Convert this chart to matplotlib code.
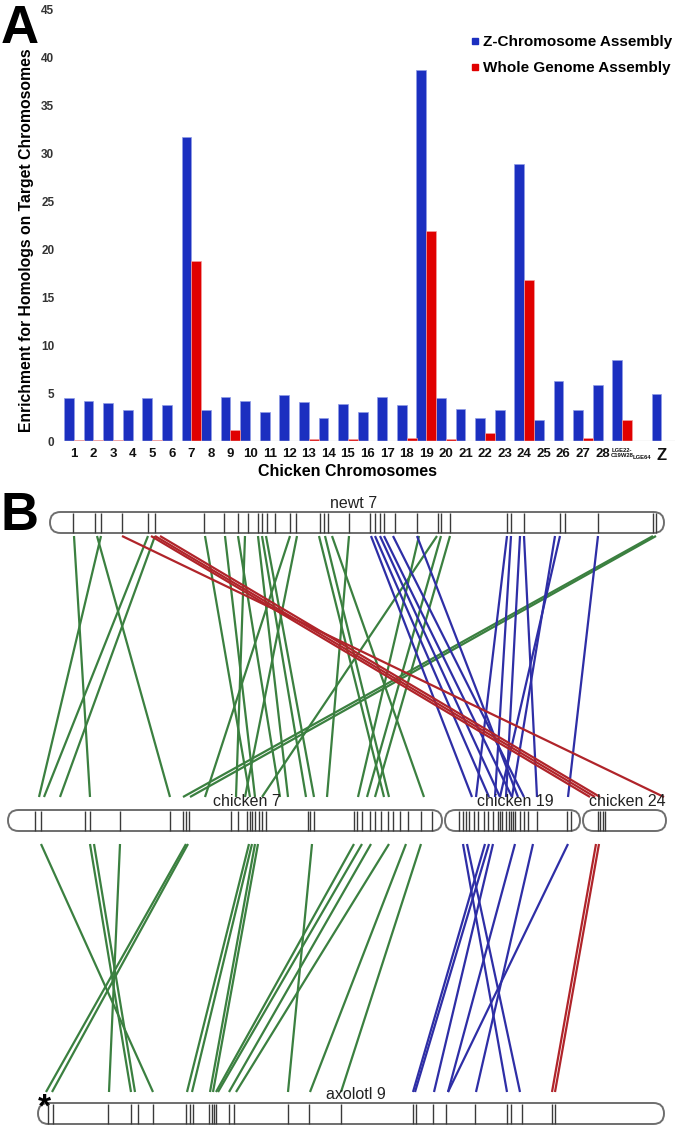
import numpy as np
import matplotlib.pyplot as plt
from matplotlib.patches import FancyBboxPatch
from matplotlib.lines import Line2D

plt.rcParams['font.family'] = ['Liberation Sans', 'DejaVu Sans']

# ---------------- panel A data ----------------
chromosomes = [str(i) for i in range(1, 29)] + ['LGE22-\nC19W28', 'LGE64', 'Z']
z_assembly = [4.45, 4.15, 3.95, 3.2, 4.5, 3.75, 31.7, 3.25, 4.6, 4.15,
              3.0, 4.8, 4.1, 2.45, 3.85, 3.0, 4.6, 3.75, 38.7, 4.5,
              3.35, 2.35, 3.2, 28.9, 2.15, 6.25, 3.2, 5.85, 8.45, 0, 4.9]
whole_genome = [0.1, 0.1, 0.1, 0, 0.1, 0, 18.8, 0, 1.15, 0,
                0, 0, 0.2, 0, 0.2, 0, 0, 0.35, 21.9, 0.25,
                0, 0.8, 0, 16.8, 0, 0, 0.35, 0, 2.2, 0, 0]

# ---------------- panel B data (positions along the ideograms, px) ----------------
newt7_bands = [73, 95, 101, 122, 148, 155, 204, 224, 238, 248, 258, 262, 267, 275,
               290, 296, 320, 324, 328, 349, 370, 375, 380, 384, 395, 417, 438, 441,
               450, 507, 511, 524, 560, 565, 598, 653, 656]
chicken7_bands = [35, 41, 85, 90, 120, 170, 183, 186, 189, 231, 238, 247, 250, 252,
                  255, 259, 262, 266, 308, 310, 314, 354, 357, 362, 370, 375, 381,
                  388, 393, 400, 408, 421, 432]
chicken19_bands = [459, 463, 466, 469, 474, 478, 484, 488, 493, 498, 500, 502, 506,
                   509, 511, 513, 515, 520, 524, 528, 537, 567, 571]
chicken24_bands = [598, 600, 603, 605]
axolotl9_bands = [48, 53, 108, 131, 138, 153, 186, 190, 193, 209, 212, 214, 216, 229,
                  234, 288, 309, 341, 413, 416, 433, 446, 475, 507, 511, 522, 552, 555]

# newt 7 -> chicken links
upper_from = [74, 97, 101, 148, 155, 205, 225, 238, 245, 258, 262, 266, 290, 297,
              319, 325, 332, 349, 419, 437, 441, 450, 653, 656,
              371, 375, 380, 384, 393, 417, 507, 511, 520, 524, 555, 560, 598,
              122, 151, 155, 160]
upper_to = [90, 170, 39, 44, 60, 250, 255, 280, 236, 288, 306, 314, 205, 245,
            384, 389, 424, 327, 358, 262, 367, 375, 183, 190,
            472, 489, 500, 512, 524, 518, 476, 495, 506, 537, 512, 500, 568,
            664, 590, 595, 600]
upper_color = ['g'] * 24 + ['b'] * 13 + ['r'] * 4

# chicken -> axolotl 9 links
lower_from = [41, 90, 94, 120, 186, 188, 249, 252, 255, 258, 312, 354, 362, 371,
              389, 406, 421,
              463, 467, 485, 489, 493, 515, 533, 568,
              596, 599]
lower_to = [153, 131, 135, 109, 46, 52, 187, 192, 210, 213, 288, 216, 218, 229,
            236, 310, 341,
            507, 520, 413, 415, 434, 448, 476, 448,
            552, 555]
lower_color = ['g'] * 17 + ['b'] * 8 + ['r'] * 2

link_colors = {'g': '#3b8040', 'b': '#2e2ea6', 'r': '#b0242a'}

W, H = 685, 1128
fig = plt.figure(figsize=(W / 100, H / 100), dpi=100)

# ---------------- panel B (pixel coordinates) ----------------
axb = fig.add_axes([0, 0, 1, 1])
axb.set_xlim(0, W)
axb.set_ylim(H, 0)
axb.axis('off')


def ideogram(x0, x1, ytop, ybot, bands, label, label_x):
    h = ybot - ytop
    box = FancyBboxPatch((x0, ytop), x1 - x0, h,
                         boxstyle="round,pad=0,rounding_size=%f" % (h / 2),
                         facecolor='white', edgecolor='#6e6e6e', lw=1.4, zorder=3)
    axb.add_patch(box)
    axb.vlines(bands, ytop + 0.5, ybot - 0.5, color='#3a3a3a', lw=1.0, zorder=4)
    axb.text(label_x, ytop - 1, label, ha='center', va='bottom', fontsize=11.5,
             color='#222222', zorder=5)


ideogram(50, 664, 512, 533, newt7_bands, 'newt 7', 354)
ideogram(8, 442, 810, 831, chicken7_bands, 'chicken 7', 247)
ideogram(445, 580, 810, 831, chicken19_bands, 'chicken 19', 515)
ideogram(583, 666, 810, 831, chicken24_bands, 'chicken 24', 627)
ideogram(38, 664, 1103, 1124, axolotl9_bands, 'axolotl 9', 356)

for x0, x1, c in zip(upper_from, upper_to, upper_color):
    axb.plot([x0, x1], [536, 797], color=link_colors[c], lw=1.6, zorder=2,
             solid_capstyle='butt')
for x0, x1, c in zip(lower_from, lower_to, lower_color):
    axb.plot([x0, x1], [844, 1092], color=link_colors[c], lw=1.6, zorder=2,
             solid_capstyle='butt')

axb.text(44, 1108, '*', ha='center', va='center', fontsize=24, fontweight='bold')
axb.text(1, 43, 'A', ha='left', va='baseline', fontsize=38, fontweight='bold')
axb.text(1, 530, 'B', ha='left', va='baseline', fontsize=38, fontweight='bold')

# ---------------- panel A ----------------
ax = fig.add_axes([64 / W, 1 - 441 / H, 611 / W, 431 / H])
x = np.arange(1, len(chromosomes) + 1)
ax.bar(x - 0.25, z_assembly, 0.5, color='#1b2fc0', edgecolor='#8f9ce6', lw=0.5,
       label='Z-Chromosome Assembly')
ax.bar(x + 0.25, whole_genome, 0.5, color='#e00000', edgecolor='#f3a0a0', lw=0.5,
       label='Whole Genome Assembly')
ax.set_xlim(0.5, 31.7)
ax.set_ylim(0, 45)
ax.axhline(0, color='#dddddd', lw=1)
for s in ax.spines.values():
    s.set_visible(False)
ax.set_yticks(np.arange(0, 46, 5))
ax.set_xticks(x)
ax.set_xticklabels(chromosomes)
ax.tick_params(length=0)
ax.tick_params(axis='y', pad=7, labelsize=8.5, labelcolor='#333333')
ax.tick_params(axis='x', pad=5, labelsize=9.5, labelcolor='#111111')
for lab in ax.get_yticklabels() + ax.get_xticklabels():
    lab.set_fontweight('bold')
xl = ax.get_xticklabels()
xl[28].set_fontsize(4.2)
xl[28].set_linespacing(0.9)
xl[29].set_fontsize(4.2)
xl[29].set_va('bottom')
xl[29].set_y(-0.027)
xl[30].set_fontsize(12)

fig.text(347 / W, 1 - 472 / H, 'Chicken Chromosomes', ha='center', va='center',
         fontsize=11.5, fontweight='bold')
fig.text(27 / W, 1 - 240 / H, 'Enrichment for Homologs on Target Chromosomes',
         ha='center', va='center', rotation=90, fontsize=11.3, fontweight='bold')

handles = [Line2D([], [], marker='s', ls='', ms=4, color='#1b2fc0'),
           Line2D([], [], marker='s', ls='', ms=4, color='#e00000')]
fig.legend(handles, ['Z-Chromosome Assembly', 'Whole Genome Assembly'],
           loc='upper left', bbox_to_anchor=(472 / W, 1 - 35 / H), frameon=False,
           handlelength=0.4, handletextpad=0.3, labelspacing=0.8,
           prop={'weight': 'bold', 'size': 11}, borderaxespad=0, borderpad=0)

fig.savefig('out.png', dpi=100)
